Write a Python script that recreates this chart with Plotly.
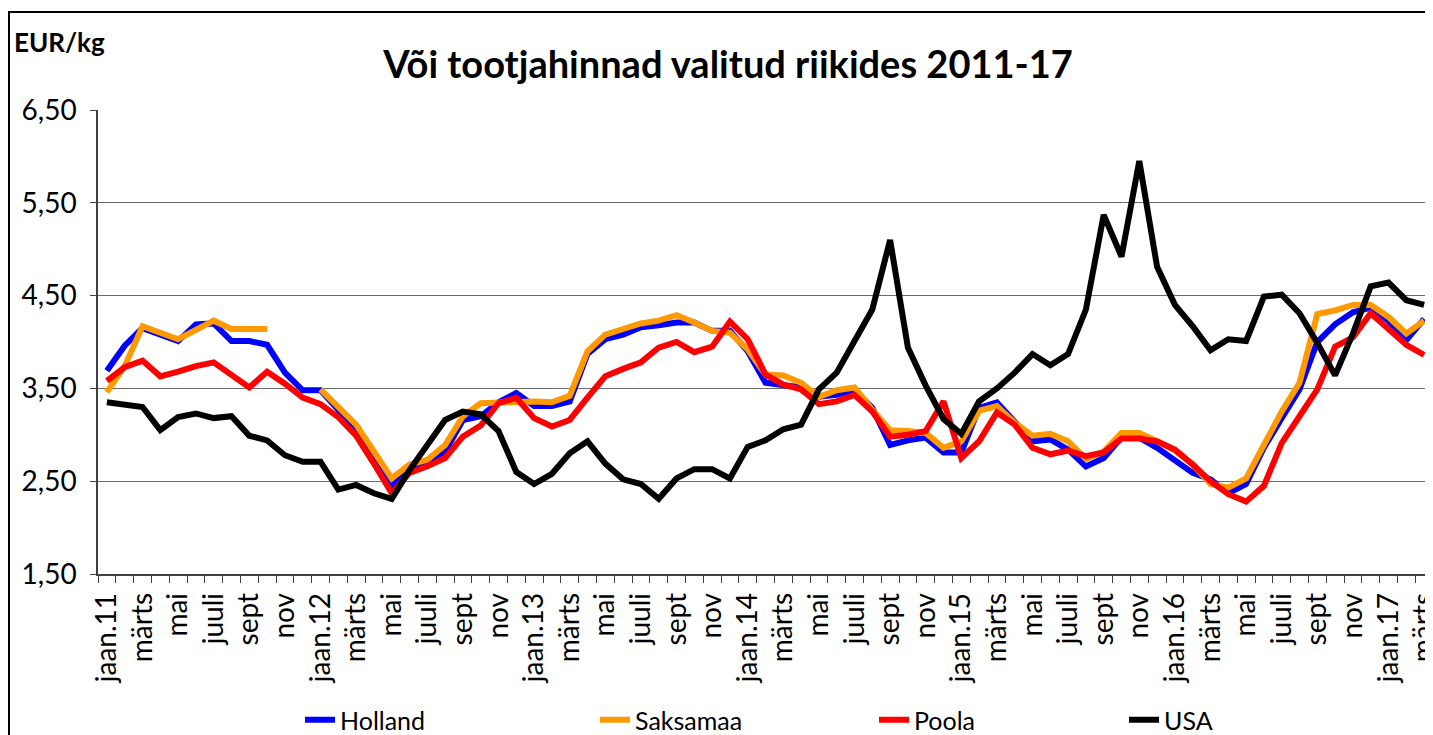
import plotly.graph_objects as go

# ---- data -------------------------------------------------------------
month_names = ["jaan", "veebr", "märts", "apr", "mai", "juuni",
               "juuli", "aug", "sept", "okt", "nov", "dets"]
years = [11, 12, 13, 14, 15, 16, 17]
n_months = 75  # jaan.11 ... märts.17

holland = [3.69, 3.96, 4.15, 4.08, 4.01, 4.19, 4.20, 4.01, 4.01, 3.97,
           3.67, 3.48, 3.48, 3.27, 3.04, 2.73, 2.44, 2.64, 2.71, 2.82,
           3.16, 3.20, 3.35, 3.45, 3.31, 3.31, 3.36, 3.87, 4.03, 4.08,
           4.16, 4.18, 4.21, 4.21, 4.12, 4.12, 3.90, 3.56, 3.53, 3.51,
           3.41, 3.43, 3.48, 3.29, 2.89, 2.94, 2.97, 2.81, 2.81, 3.29,
           3.35, 3.13, 2.93, 2.95, 2.84, 2.66, 2.75, 2.97, 2.97, 2.86,
           2.73, 2.59, 2.52, 2.37, 2.47, 2.86, 3.18, 3.49, 4.00, 4.19,
           4.32, 4.37, 4.23, 4.02, 4.25]

saksamaa = [3.46, 3.74, 4.17, 4.10, 4.03, 4.13, 4.23, 4.14, 4.14, 4.14,
            None, None, 3.49, 3.31, 3.11, 2.82, 2.53, 2.68, 2.73, 2.89,
            3.20, 3.34, 3.35, 3.35, 3.36, 3.35, 3.42, 3.90, 4.08, 4.14,
            4.20, 4.23, 4.29, 4.21, 4.12, 4.10, 3.92, 3.65, 3.64, 3.56,
            3.41, 3.48, 3.51, 3.27, 3.05, 3.04, 3.02, 2.86, 2.93, 3.26,
            3.31, 3.13, 2.99, 3.01, 2.93, 2.74, 2.82, 3.02, 3.02, 2.93,
            2.83, 2.68, 2.47, 2.43, 2.53, 2.89, 3.25, 3.56, 4.30, 4.34,
            4.40, 4.40, 4.27, 4.09, 4.23]

poola = [3.58, 3.73, 3.80, 3.63, 3.68, 3.74, 3.78, 3.64, 3.51, 3.68,
         3.55, 3.40, 3.33, 3.19, 2.99, 2.69, 2.37, 2.59, 2.66, 2.75,
         2.98, 3.10, 3.34, 3.40, 3.18, 3.09, 3.16, 3.40, 3.63, 3.71,
         3.78, 3.94, 4.00, 3.89, 3.95, 4.22, 4.03, 3.65, 3.54, 3.49,
         3.33, 3.36, 3.43, 3.25, 2.98, 3.00, 3.04, 3.36, 2.75, 2.93,
         3.24, 3.11, 2.86, 2.79, 2.83, 2.77, 2.81, 2.96, 2.96, 2.93,
         2.84, 2.68, 2.50, 2.36, 2.28, 2.45, 2.91, 3.20, 3.49, 3.95,
         4.05, 4.31, 4.15, 3.97, 3.86]

usa = [3.35, 3.32, 3.30, 3.05, 3.19, 3.23, 3.18, 3.20, 2.99, 2.94,
       2.78, 2.71, 2.71, 2.41, 2.46, 2.37, 2.31, 2.62, 2.88, 3.16,
       3.25, 3.22, 3.04, 2.60, 2.47, 2.58, 2.80, 2.93, 2.69, 2.52,
       2.47, 2.31, 2.53, 2.63, 2.63, 2.53, 2.87, 2.94, 3.06, 3.11,
       3.49, 3.67, 4.01, 4.35, 5.10, 3.94, 3.53, 3.17, 3.01, 3.36,
       3.50, 3.67, 3.87, 3.75, 3.87, 4.35, 5.37, 4.92, 5.95, 4.81,
       4.40, 4.17, 3.91, 4.03, 4.01, 4.49, 4.51, 4.31, 3.99, 3.64,
       4.09, 4.60, 4.64, 4.45, 4.40]

y_ticks = [1.5, 2.5, 3.5, 4.5, 5.5, 6.5]

# category labels (month index -> label)
categories = []
for k in range(n_months):
    m = k % 12
    yy = years[k // 12]
    categories.append(f"{month_names[m]}.{yy}" if m == 0 else month_names[m])
x_idx = list(range(n_months))
tick_idx = x_idx[::2]
tick_txt = [categories[k] for k in tick_idx]

# ---- layout constants ------------------------------------------------
# the page body has an 8px margin, so figure coords = page coords - 8
OFF = 8
W, H = 1433 - OFF, 735 - OFF
L, R, T = 98 - OFF, 0, 110 - OFF
B = H - (574 - OFF)
PW = W - L - R
PH = H - T - B
FONT = "Lato"


def px_x(px):
    """page x pixel -> paper fraction"""
    return (px - OFF - L) / PW


def px_y(py):
    """page y pixel -> paper fraction"""
    return (H - B - (py - OFF)) / PH


series = [
    ("Holland", holland, "#0000FF", 341),
    ("Saksamaa", saksamaa, "#FF9900", 636),
    ("Poola", poola, "#FF0000", 915),
    ("USA", usa, "#000000", 1165),
]

fig = go.Figure()
for j, (name, vals, col, tx) in enumerate(series):
    leg = "legend" if j == 0 else f"legend{j + 1}"
    fig.add_trace(go.Scatter(
        x=x_idx, y=vals, name=name, mode="lines",
        line=dict(color=col, width=6),
        connectgaps=False, legend=leg,
    ))

legend_common = dict(
    orientation="h", yanchor="middle", xanchor="left",
    xref="container", yref="container",
    font=dict(family=FONT, size=25, color="#000000"),
    bgcolor="rgba(0,0,0,0)", borderwidth=0,
)
layout_legends = {}
for j, (name, vals, col, tx) in enumerate(series):
    key = "legend" if j == 0 else f"legend{j + 1}"
    layout_legends[key] = dict(legend_common,
                               x=(tx - OFF - 41) / W,
                               y=1 - (720 - OFF) / H)

fig.update_layout(
    width=W, height=H,
    margin=dict(l=L, r=R, t=T, b=B, pad=0, autoexpand=False),
    paper_bgcolor="#FFFFFF", plot_bgcolor="#FFFFFF",
    separators=", ",
    font=dict(family=FONT, size=22, color="#000000"),
    title=dict(
        text="<b>Või tootjahinnad valitud riikides 2011-17</b>",
        font=dict(family=FONT, size=38, color="#000000"),
        x=(728 - OFF) / W, xref="container", xanchor="center",
        y=1 - (65 - OFF) / H, yref="container", yanchor="middle",
    ),
    xaxis=dict(
        range=[-0.5, n_months - 0.5], automargin=False,
        tickmode="array", tickvals=tick_idx, ticktext=tick_txt,
        tickangle=-90, ticks="", showgrid=False, zeroline=False,
        showline=True, linecolor="#404040", linewidth=1.5,
        tickfont=dict(family=FONT, size=28, color="#000000"),
        ticklabelstandoff=6, ticklabeloverflow="allow",
        minor=dict(ticks="outside", ticklen=7, tickcolor="#404040",
                   tick0=0.5, dtick=1, showgrid=False),
    ),
    yaxis=dict(
        range=[1.5, 6.5], automargin=False,
        tickmode="array", tickvals=y_ticks,
        tickformat=".2f", ticks="outside", ticklen=6, tickcolor="#404040",
        showgrid=True, gridcolor="#6b6b6b", gridwidth=1.3,
        zeroline=False, showline=True, linecolor="#404040", linewidth=1.5,
        tickfont=dict(family=FONT, size=28, color="#000000"),
        ticklabelstandoff=8,
    ),
    showlegend=True,
    **layout_legends,
)

fig.add_annotation(
    text="<b>EUR/kg</b>", xref="paper", yref="paper",
    x=px_x(12), y=px_y(42), xanchor="left", yanchor="middle",
    showarrow=False, font=dict(family=FONT, size=26, color="#000000"),
)

# chart area border
fig.add_shape(
    type="rect", xref="paper", yref="paper",
    x0=px_x(9), x1=px_x(1431), y0=px_y(770), y1=px_y(12),
    line=dict(color="#000000", width=2), fillcolor="rgba(0,0,0,0)",
    layer="above",
)

fig.write_html("out.html")
